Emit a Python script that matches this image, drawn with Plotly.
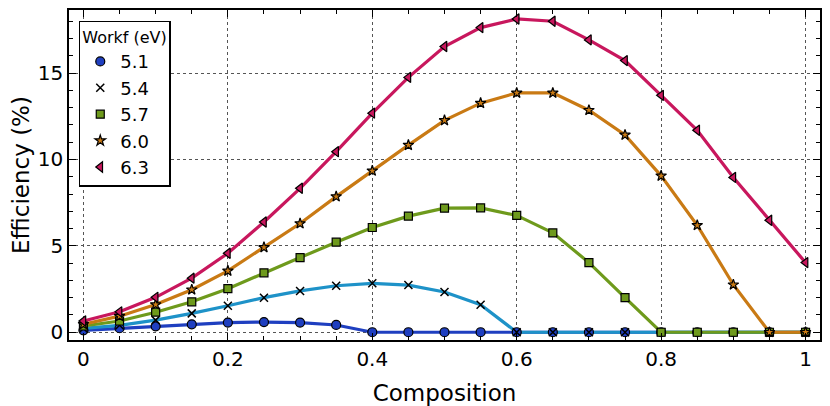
import plotly.graph_objs as go

composition = [0.0, 0.05, 0.1, 0.15, 0.2, 0.25, 0.3, 0.35, 0.4, 0.45, 0.5,
               0.55, 0.6, 0.65, 0.7, 0.75, 0.8, 0.85, 0.9, 0.95, 1.0]

eff_51 = [0.11, 0.23, 0.34, 0.46, 0.56, 0.59, 0.56, 0.42, 0, 0, 0,
          0, 0, 0, 0, 0, 0, 0, 0, 0, 0]
eff_54 = [0.22, 0.4, 0.7, 1.09, 1.53, 2.0, 2.39, 2.69, 2.83, 2.73, 2.33,
          1.59, 0, 0, 0, 0, 0, 0, 0, 0, 0]
eff_57 = [0.36, 0.65, 1.16, 1.76, 2.52, 3.44, 4.32, 5.21, 6.06, 6.72, 7.18,
          7.2, 6.76, 5.75, 4.03, 2.0, 0, 0, 0, 0, 0]
eff_60 = [0.46, 0.93, 1.6, 2.46, 3.55, 4.91, 6.29, 7.85, 9.34, 10.83, 12.26,
          13.26, 13.85, 13.85, 12.85, 11.42, 9.05, 6.19, 2.75, 0, 0]
eff_63 = [0.65, 1.18, 2.02, 3.13, 4.57, 6.38, 8.33, 10.45, 12.68, 14.75, 16.54,
          17.63, 18.13, 18.0, 16.92, 15.72, 13.71, 11.69, 8.96, 6.48, 4.03]

names = ["5.1", "5.4", "5.7", "6.0", "6.3"]
series = [eff_51, eff_54, eff_57, eff_60, eff_63]

colors = ["#1f3fc0", "#1e92c8", "#6e9a1c", "#c97a14", "#c8175d"]
symbols = ["circle", "x-thin", "square", "star", "triangle-left"]
sizes = [9, 8, 8, 8, 9]

fig = go.Figure()

# lines first, no legend entry
for name, y, c in zip(names, series, colors):
    fig.add_trace(go.Scatter(x=composition, y=y, mode="lines",
                             line=dict(color=c, width=3.2),
                             legendgroup=name, showlegend=False,
                             hoverinfo="skip"))

# markers on top, these make the legend
for name, y, c, s, sz in zip(names, series, colors, symbols, sizes):
    if s == "x-thin":
        mk = dict(symbol=s, size=sz, color="black",
                  line=dict(color="black", width=1.5))
    else:
        mk = dict(symbol=s, size=sz, color=c,
                  line=dict(color="black", width=1.2))
    fig.add_trace(go.Scatter(x=composition, y=y, mode="markers",
                             marker=mk, name=name, legendgroup=name))

axis_common = dict(
    showline=True, linecolor="black", linewidth=1.5, mirror="allticks",
    ticks="inside", ticklen=7, tickwidth=1, tickcolor="black",
    showgrid=True, gridcolor="#555555", gridwidth=1, griddash="dot",
    zeroline=False, automargin=False,
    tickfont=dict(family="DejaVu Sans", size=20, color="black"),
)

fig.update_xaxes(
    range=[-0.02, 1.02], tick0=0, dtick=0.2,
    minor=dict(ticks="inside", dtick=0.05, ticklen=4, tickcolor="black",
               showgrid=False),
    title=dict(text="Composition",
               font=dict(family="DejaVu Sans", size=23, color="black")),
    **axis_common)
fig.update_yaxes(
    range=[-0.45, 18.65], tick0=0, dtick=5,
    minor=dict(ticks="inside", dtick=1, ticklen=4, tickcolor="black",
               showgrid=False),
    title=dict(text="Efficiency (%)",
               font=dict(family="DejaVu Sans", size=23, color="black")),
    **axis_common)

# page body has an 8px margin, so the figure is a bit smaller than the window
fig.update_layout(
    width=822, height=398,
    margin=dict(l=61, r=10, t=2, b=66),
    plot_bgcolor="white", paper_bgcolor="white",
    font=dict(family="DejaVu Sans", color="black"),
    legend=dict(
        title=dict(text="Workf (eV)", font=dict(size=16)),
        font=dict(size=18),
        x=0.013, y=0.967, xanchor="left", yanchor="top",
        bgcolor="white", bordercolor="black", borderwidth=1.5,
        itemwidth=30, tracegroupgap=0,
    ),
)

fig.write_html("out.html")
